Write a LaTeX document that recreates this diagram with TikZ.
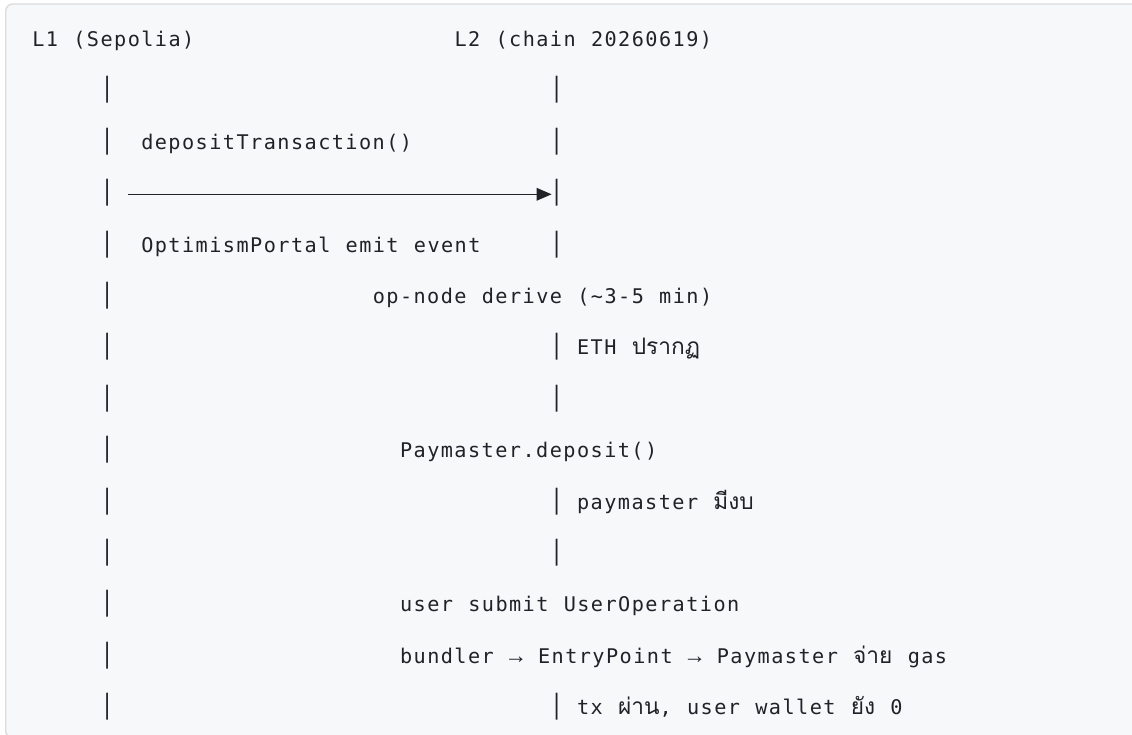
\documentclass[tikz,border=0pt]{standalone}
\usepackage{fontspec}
\usetikzlibrary{arrows.meta}
\newfontfamily\codefont[LetterSpace=7.2,WordSpace={1.12,0,0}]{DejaVu Sans Mono}
\newfontfamily\boxfont{DejaVu Sans Mono}
\newfontfamily\arrowglyphfont{Liberation Mono}
\newfontfamily\thaifont[Script=Thai]{Loma}
\newcommand{\rarr}{{\arrowglyphfont\fontsize{22.7}{27}\selectfont →}}
\newcommand{\thaitext}[1]{{\thaifont\fontsize{22.7}{27}\selectfont #1}}
\definecolor{codebg}{HTML}{F6F8FA}
\definecolor{codeframe}{HTML}{DCDCDC}
\definecolor{ink}{HTML}{1F2328}
% character grid of the code block: column width and line pitch, in px (= pt here)
\def\cw{13.62}
\def\xo{32.3}
\def\lh{51.4}
\def\yo{46.5}
\begin{document}
\begin{tikzpicture}[x=1pt,y=-1pt,
  txt/.style={anchor=base west, inner sep=0pt, outer sep=0pt, text=ink,
    font=\codefont\fontsize{20.2}{27}\selectfont},
  lifebar/.style={anchor=base west, inner sep=0pt, outer sep=0pt, text=ink,
    font=\boxfont\fontsize{22.7}{27}\selectfont},
  msg/.style={draw=ink, line width=1.5pt, -{Triangle[length=15pt,width=12.5pt]}}]

\useasboundingbox (0,0) rectangle (1132,735);
\begin{scope}
  \clip (0,0) rectangle (1132,735);
  \fill[white] (0,0) rectangle (1132,735);
  \draw[codeframe, fill=codebg, line width=1.4pt, rounded corners=7pt]
    (5.7,4) rectangle (1150,738);
\end{scope}

% lifeline headers
\node[txt] (h1) at ({\xo+0*\cw},{\yo+0*\lh}) {L1 (Sepolia)};
\node[txt] (h2) at ({\xo+31*\cw},{\yo+0*\lh}) {L2 (chain 20260619)};

% L1 lifeline, column 5
\foreach \k in {1,...,13}
  \node[lifebar] (L\k) at ({\xo+5*\cw},{\yo+\k*\lh}) {│};
% L2 lifeline, column 38
\foreach \k in {1,2,3,4,6,7,9,10,13}
  \node[lifebar] (R\k) at ({\xo+38*\cw},{\yo+\k*\lh}) {│};

% deposit message from L1 to L2
\draw[msg] ([xshift=\cw pt, yshift=6.4pt]L3.base east) -- ([xshift=1.8pt, yshift=6.4pt]R3.base west);

% labels and steps
\node[txt] (m1) at ({\xo+8*\cw},{\yo+2*\lh}) {depositTransaction()};
\node[txt] (m2) at ({\xo+8*\cw},{\yo+4*\lh}) {OptimismPortal emit event};
\node[txt] (m3) at ({\xo+25*\cw},{\yo+5*\lh}) {op-node derive (\textasciitilde3-5 min)};
\node[txt] (m4) at ({\xo+40*\cw},{\yo+6*\lh}) {ETH \thaitext{ปรากฏ}};
\node[txt] (m5) at ({\xo+27*\cw},{\yo+8*\lh}) {Paymaster.deposit()};
\node[txt] (m6) at ({\xo+40*\cw},{\yo+9*\lh}) {paymaster \thaitext{มีงบ}};
\node[txt] (m7) at ({\xo+27*\cw},{\yo+11*\lh}) {user submit UserOperation};
\node[txt] (m8) at ({\xo+27*\cw},{\yo+12*\lh}) {bundler \rarr{} EntryPoint \rarr{} Paymaster \thaitext{จ่าย} gas};
\node[txt] (m9) at ({\xo+40*\cw},{\yo+13*\lh}) {tx \thaitext{ผ่าน}, user wallet \thaitext{ยัง} 0};
\end{tikzpicture}
\end{document}
